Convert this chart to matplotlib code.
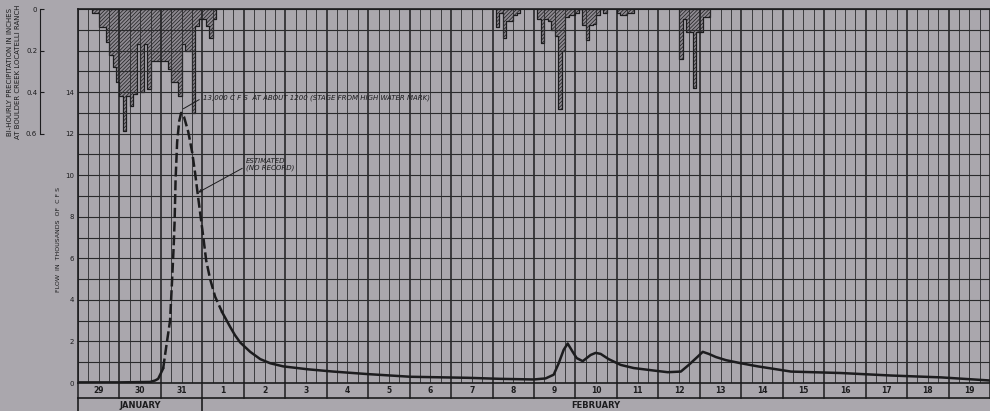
import numpy as np
import matplotlib.pyplot as plt
from matplotlib.transforms import blended_transform_factory

bg = "#aaa7ad"
ink = "#1c1c1e"

# flow record: hours after 0000 Jan 29, thousands of c.f.s.
flow_hours = [0, 24, 41.7, 44.6, 46.4, 49.3, 51.0, 53.3, 54.5, 55.4, 55.9, 56.5,
              57.4, 58.6, 59.7, 61.4, 63.8, 66.1, 67.8, 69.0, 70.7, 72.5, 74.2,
              76.5, 79.4, 83.5, 88.1, 90.9, 93.9, 99.7, 105.5, 111.3, 118.8,
              133.0, 147.8, 167.5,
              192.5, 225.5, 244.6, 263.8, 270.7, 275.4, 278.3, 281.2, 283.5,
              286.4, 288.7, 292.2, 296.8, 299.7, 302.6, 307.2, 314.2, 321.7,
              333.3, 341.4, 349.0, 353.6, 358.8, 361.7, 365.2, 369.3, 375.1,
              383.8, 393.6, 412.8, 441.7, 470.7, 499.7, 528]
flow_kcfs = [0.03, 0.03, 0.05, 0.12, 0.2, 0.7, 1.7, 3.0, 5.0, 6.6, 7.7, 9.8,
             11.6, 12.6, 13.0, 12.8, 12.1, 11.1, 10.1, 9.3, 8.2, 7.05, 5.9,
             5.0, 4.15, 3.4, 2.7, 2.3, 1.95, 1.5, 1.15, 0.95, 0.8,
             0.66, 0.55, 0.43,
             0.3, 0.25, 0.2, 0.17, 0.22, 0.4, 0.95, 1.6, 1.9,
             1.5, 1.2, 1.05, 1.35, 1.45, 1.4, 1.15, 0.87, 0.72,
             0.6, 0.52, 0.55, 0.87, 1.27, 1.5, 1.4, 1.25, 1.1,
             0.95, 0.8, 0.55, 0.48, 0.36, 0.27, 0.12]
est_from, est_to = 49.3, 83.5   # dashed part (estimated, no record)

# bi-hourly rainfall, inches; each block starts at the given hour
rain_start = [8, 242, 266, 312, 348]
rain_blocks = [
    [0.02, 0.02, 0.086, 0.086, 0.16, 0.22, 0.28, 0.35, 0.42, 0.585, 0.42, 0.465,
     0.41, 0.17, 0.40, 0.17, 0.385, 0.25, 0.25, 0.25, 0.25, 0.25, 0.29, 0.35,
     0.35, 0.42, 0.17, 0.2, 0.2, 0.50, 0.08, 0.05, 0.05, 0.08, 0.14, 0.05],
    [0.086, 0.02, 0.14, 0.06, 0.06, 0.03, 0.02],
    [0.05, 0.165, 0.05, 0.06, 0.1, 0.13, 0.48, 0.2, 0.04, 0.03, 0.03, 0.02,
     0.0, 0.075, 0.15, 0.075, 0.07, 0.03, 0.0, 0.02],
    [0.02, 0.03, 0.03, 0.02, 0.02],
    [0.24, 0.05, 0.11, 0.11, 0.38, 0.11, 0.11, 0.04, 0.04],
]

day_labels = ["29", "30", "31"] + [str(d) for d in range(1, 20)]
month_labels = ["JANUARY", "FEBRUARY"]
month_days = [3, 19]
flow_ticks = [0, 2, 4, 6, 8, 10, 12, 14]
rain_ticks = [0, 0.2, 0.4, 0.6]
rain_ticklabels = ["0", "0.2", "0.4", "0.6"]

plt.rcParams["hatch.linewidth"] = 0.5

fig = plt.figure(figsize=(9.9, 4.11), dpi=100, facecolor=bg)
ax = fig.add_axes([78 / 990, 28 / 411, 912 / 990, 374 / 411])
ax2 = ax.twinx()
ax.set_zorder(2)
ax2.set_zorder(1)
ax.patch.set_visible(False)
ax2.patch.set_visible(False)

hours = len(day_labels) * 24
ax.set_xlim(0, hours)
ax.set_ylim(0, 18)
ax2.set_ylim(1.8, 0)

# grid: days, 6-hour lines, 1000 cfs lines
ax.set_xticks(np.arange(0, hours + 1, 24))
ax.set_xticks(np.arange(0, hours + 1, 6), minor=True)
ax.set_yticks(np.arange(0, 19))
ax.set_yticklabels([str(v) if v in flow_ticks else "" for v in range(19)])
ax.grid(which="major", axis="x", color=ink, lw=1.1)
ax.grid(which="minor", axis="x", color="#2a2a2c", lw=0.6)
ax.grid(which="major", axis="y", color="#2a2a2c", lw=0.8)
ax.tick_params(axis="x", which="both", length=0, labelbottom=False)
ax.tick_params(axis="y", length=0, labelsize=5, pad=3, colors=ink)
for s in ["left", "top", "bottom"]:
    ax.spines[s].set_color(ink)
    ax.spines[s].set_linewidth(1.2)
ax.spines["right"].set_visible(False)

# precipitation axis, hanging from the top
for s in ["right", "top", "bottom"]:
    ax2.spines[s].set_visible(False)
ax2.spines["left"].set_position(("outward", 27.4))
ax2.spines["left"].set_bounds(0, 0.6)
ax2.spines["left"].set_color(ink)
ax2.yaxis.tick_left()
ax2.set_yticks(rain_ticks)
ax2.set_yticklabels(rain_ticklabels)
ax2.tick_params(axis="y", direction="in", length=3, labelsize=5, pad=2, colors=ink)

for start, vals in zip(rain_start, rain_blocks):
    edges = start + 2 * np.arange(len(vals) + 1)
    ax2.fill_between(edges, np.append(vals, vals[-1]), 0, step="post",
                     facecolor="#8e8a91", edgecolor=ink, hatch="/////////", lw=0.9)

# hydrograph
t = np.array(flow_hours)
q = np.array(flow_kcfs)
solid1 = t <= est_from
est = (t >= est_from) & (t <= est_to)
solid2 = t >= est_to
ax.plot(t[solid1], q[solid1], color=ink, lw=1.8)
ax.plot(t[est], q[est], color=ink, lw=1.8, dashes=(4, 1.5))
ax.plot(t[solid2], q[solid2], color=ink, lw=1.8)

ax.annotate("13,000 C F S  AT ABOUT 1200 (STAGE FROM HIGH WATER MARK)",
            xy=(61, 13.2), xytext=(72.5, 13.75), fontsize=5, style="italic",
            ha="left", va="center", color=ink,
            arrowprops=dict(arrowstyle="-", lw=0.7, color=ink, relpos=(0, 0.5),
                            shrinkA=1, shrinkB=0))
ax.annotate("ESTIMATED\n(NO RECORD)", xy=(69.6, 9.17), xytext=(97.4, 10.5),
            fontsize=5, style="italic", ha="left", va="center", color=ink,
            linespacing=1.1,
            arrowprops=dict(arrowstyle="->", lw=0.7, color=ink, relpos=(0, 0.4),
                            shrinkA=1, shrinkB=0))

# date rows under the chart
trans = blended_transform_factory(ax.transData, ax.transAxes)
row_h = 15 / 374
ax.plot([0, hours], [-row_h, -row_h], transform=trans, clip_on=False, color=ink, lw=1.2)
for d in range(len(day_labels) + 1):
    ax.plot([d * 24, d * 24], [0, -row_h], transform=trans, clip_on=False, color=ink, lw=1.1)
for i, lab in enumerate(day_labels):
    ax.text(i * 24 + 12, -row_h / 2, lab, transform=trans, ha="center", va="center",
            fontsize=5.5, fontweight="bold", color=ink)
m0 = 0
for lab, n in zip(month_labels, month_days):
    ax.plot([m0 * 24, m0 * 24], [-row_h, -0.1], transform=trans, clip_on=False,
            color=ink, lw=1.2)
    ax.text((m0 + n / 2) * 24, -22 / 374, lab, transform=trans, ha="center",
            va="center", fontsize=6, fontweight="bold", color=ink)
    m0 += n

fig.text(58 / 990, 1 - 240 / 411, "FLOW  IN  THOUSANDS  OF  C F S", rotation=90,
         ha="center", va="center", fontsize=4.5, color=ink)
fig.text(10 / 990, 1 - 72 / 411, "BI-HOURLY PRECIPITATION IN INCHES", rotation=90,
         ha="center", va="center", fontsize=5, color=ink)
fig.text(18 / 990, 1 - 72 / 411, "AT BOULDER CREEK LOCATELLI RANCH", rotation=90,
         ha="center", va="center", fontsize=5, color=ink)

fig.savefig("out.png", dpi=100, facecolor=bg)
